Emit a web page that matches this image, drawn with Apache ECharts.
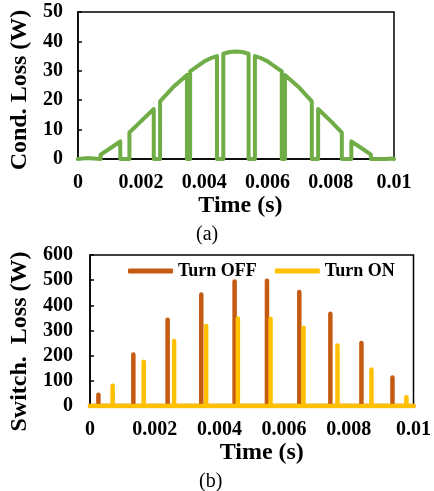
<!DOCTYPE html>
<html>
<head>
<meta charset="utf-8">
<script src="https://cdn.jsdelivr.net/npm/echarts@6/dist/echarts.min.js"></script>
<style>
  html, body { margin: 0; padding: 0; background: #fff; }
  #chart { width: 434px; height: 491px; }
</style>
</head>
<body>
<div id="chart"></div>
<script>
// Conduction loss over one half period: [time (s), loss (W)]
const condLoss = [
  [0, 0], [0.00003, 0], [0.00003, 0.2], [0.00028, 0.3], [0.00028, 0],
  [0.00072, 0], [0.00072, 1.5], [0.001, 3.5], [0.00134, 6.0], [0.00134, 0],
  [0.00163, 0], [0.00163, 9.0], [0.002, 12.9], [0.0024, 17.0], [0.0024, 0],
  [0.0026, 0], [0.0026, 19.6], [0.003, 24.3], [0.00345, 28.6], [0.00345, 0],
  [0.00355, 0], [0.00355, 29.8], [0.004, 33.2], [0.0042, 34.3], [0.0044, 35.0], [0.0044, 0],
  [0.0046, 0], [0.0046, 35.8], [0.0048, 36.4], [0.005, 36.6], [0.0052, 36.4], [0.0054, 35.8], [0.0054, 0],
  [0.0056, 0], [0.0056, 35.0], [0.0058, 34.3], [0.006, 33.2], [0.00645, 29.8], [0.00645, 0],
  [0.00655, 0], [0.00655, 28.6], [0.007, 24.3], [0.0074, 19.6], [0.0074, 0],
  [0.0076, 0], [0.0076, 17.0], [0.008, 12.9], [0.00835, 9.0], [0.00835, 0],
  [0.00865, 0], [0.00865, 6.0], [0.009, 3.5], [0.00927, 1.5], [0.00927, 0],
  [0.00972, 0], [0.00972, 0.3], [0.00997, 0.2], [0.00997, 0], [0.01, 0]
];

// Switching events: time (s) and loss spike height (W)
const offTimes  = [0.00026, 0.00134, 0.0024, 0.00344, 0.00447, 0.00547, 0.00647, 0.00743, 0.00839, 0.00935];
const offValues = [45, 205, 343, 443, 495, 498, 453, 367, 250, 113];
const onTimes   = [0.0007, 0.00166, 0.0026, 0.00359, 0.00457, 0.00558, 0.0066, 0.00765, 0.0087, 0.00978];
const onValues  = [80, 176, 258, 318, 348, 347, 311, 240, 145, 35];

const xTickLabels = ['0', '0.002', '0.004', '0.006', '0.008', '0.01'];

// Turn each event into a vertical spike on a zero baseline
function spikes(times, values) {
  const pts = [[0, 0]];
  times.forEach((t, i) => {
    pts.push([t, 0], [t, values[i]], [t, 0]);
  });
  pts.push([0.01, 0]);
  return pts;
}

const FONT = '"Liberation Serif", "Times New Roman", serif';
const tickLabel = { fontFamily: FONT, fontWeight: 'bold', fontSize: 20, color: '#000' };
const nameStyle = { fontFamily: FONT, fontWeight: 'bold', fontSize: 24, color: '#000' };

function xAxisCfg(gridIndex, nameGap, pad) {
  return {
    type: 'value', gridIndex, min: 0, max: 0.01, interval: 0.002,
    name: 'Time (s)', nameLocation: 'middle', nameGap,
    nameTextStyle: Object.assign({ padding: pad }, nameStyle),
    axisLine: { show: true, lineStyle: { color: '#000', width: 1.5 } },
    axisTick: { show: false },
    splitLine: { show: false },
    axisLabel: Object.assign({ margin: 14, formatter: (v, i) => xTickLabels[i] }, tickLabel)
  };
}

function yAxisCfg(gridIndex, name, max, interval, nameGap, pad, margin) {
  return {
    type: 'value', gridIndex, min: 0, max, interval,
    name, nameLocation: 'middle', nameGap,
    nameTextStyle: Object.assign({ padding: pad }, nameStyle),
    axisLine: { show: true, lineStyle: { color: '#000', width: 1.5 } },
    axisTick: { show: true, inside: true, length: 4, lineStyle: { color: '#000', width: 1.5 } },
    splitLine: { show: false },
    axisLabel: Object.assign({ margin }, tickLabel)
  };
}

const chart = echarts.init(document.getElementById('chart'), null, { renderer: 'canvas' });

chart.setOption({
  animation: false,
  backgroundColor: '#fff',
  grid: [
    { left: 73, right: 40, top: 12, height: 147, show: true, borderColor: '#000', borderWidth: 1.5 },
    { left: 89, right: 16, top: 255, height: 151, show: true, borderColor: '#000', borderWidth: 1.5 }
  ],
  xAxis: [
    xAxisCfg(0, 31, [0, 0, 0, 9]),
    xAxisCfg(1, 34, [0, 0, 0, 20])
  ],
  yAxis: [
    yAxisCfg(0, 'Cond. Loss (W)', 50, 10, 40, [0, 9, 0, 0], 15),
    yAxisCfg(1, 'Switch.  Loss (W)', 600, 100, 58, [0, 22, 0, 0], 17)
  ],
  legend: {
    data: ['Turn OFF', 'Turn ON'],
    left: 123, top: 257,
    icon: 'roundRect',
    itemWidth: 45, itemHeight: 5, itemGap: 18,
    textStyle: { fontFamily: FONT, fontWeight: 'bold', fontSize: 18, color: '#000' }
  },
  series: [
    {
      name: 'Cond. Loss', type: 'line', xAxisIndex: 0, yAxisIndex: 0,
      data: condLoss, showSymbol: false, symbol: 'none',
      lineStyle: { color: '#70AD47', width: 4, cap: 'round', join: 'round' },
      itemStyle: { color: '#70AD47' }
    },
    {
      name: 'Turn OFF', type: 'line', xAxisIndex: 1, yAxisIndex: 1,
      data: spikes(offTimes, offValues), showSymbol: false, symbol: 'none',
      lineStyle: { color: '#C55A11', width: 4.5, cap: 'round', join: 'round' },
      itemStyle: { color: '#C55A11' }
    },
    {
      name: 'Turn ON', type: 'line', xAxisIndex: 1, yAxisIndex: 1,
      data: spikes(onTimes, onValues), showSymbol: false, symbol: 'none',
      lineStyle: { color: '#FFC000', width: 4.5, cap: 'round', join: 'round' },
      itemStyle: { color: '#FFC000' }
    }
  ],
  // Panel captions under each plot
  graphic: [
    { type: 'text', left: 196, top: 225, style: { text: '(a)', font: '20px ' + FONT, fill: '#000' } },
    { type: 'text', left: 199, top: 472, style: { text: '(b)', font: '20px ' + FONT, fill: '#000' } }
  ]
});
</script>
</body>
</html>
